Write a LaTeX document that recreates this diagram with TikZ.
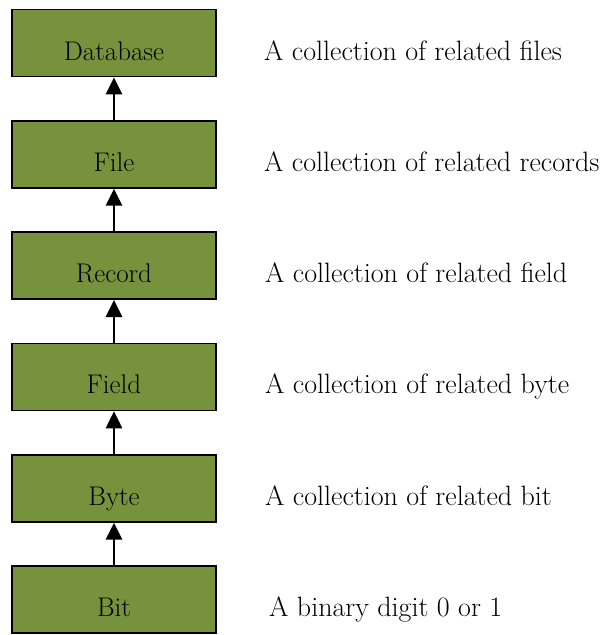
\documentclass[tikz,border=0pt]{standalone}
\usepackage{fontspec}
\usetikzlibrary{arrows.meta}
\definecolor{olivebox}{RGB}{118,146,60}
\tikzset{
  levelbox/.style={draw=black, line width=1.8pt, fill=olivebox, inner sep=0pt,
    minimum width=204pt, minimum height=67pt, text height=34pt, text depth=0pt,
    font=\fontsize{27}{32}\selectfont},
  desc/.style={anchor=west, inner sep=0pt, text height=34pt, text depth=0pt,
    font=\fontsize{28}{32}\selectfont},
  uparrow/.style={line width=2.8pt, -{Triangle[length=17pt,width=16pt]}}
}
\begin{document}
\begin{tikzpicture}
\useasboundingbox (0,0) rectangle (608pt,-635pt);
\node[levelbox] (db) at (114pt,-43pt) {Database};
\node[levelbox] (file) at (114pt,-154.3pt) {File};
\node[levelbox] (rec) at (114pt,-265.6pt) {Record};
\node[levelbox] (field) at (114pt,-376.9pt) {Field};
\node[levelbox] (byte) at (114pt,-488.2pt) {Byte};
\node[levelbox] (bit) at (114pt,-599.5pt) {Bit};
\node[desc] (ddb) at ([xshift=47pt]db.east) {A collection of related files};
\node[desc] (dfile) at ([xshift=47pt]file.east) {A collection of related records};
\node[desc] (drec) at ([xshift=48pt]rec.east) {A collection of related field};
\node[desc] (dfield) at ([xshift=48pt]field.east) {A collection of related byte};
\node[desc] (dbyte) at ([xshift=48pt]byte.east) {A collection of related bit};
\node[desc] (dbit) at ([xshift=52pt]bit.east) {A binary digit 0 or 1};
\draw[uparrow] (file.north) -- (db.south);
\draw[uparrow] (rec.north) -- (file.south);
\draw[uparrow] (field.north) -- (rec.south);
\draw[uparrow] (byte.north) -- (field.south);
\draw[uparrow] (bit.north) -- (byte.south);
\end{tikzpicture}
\end{document}
